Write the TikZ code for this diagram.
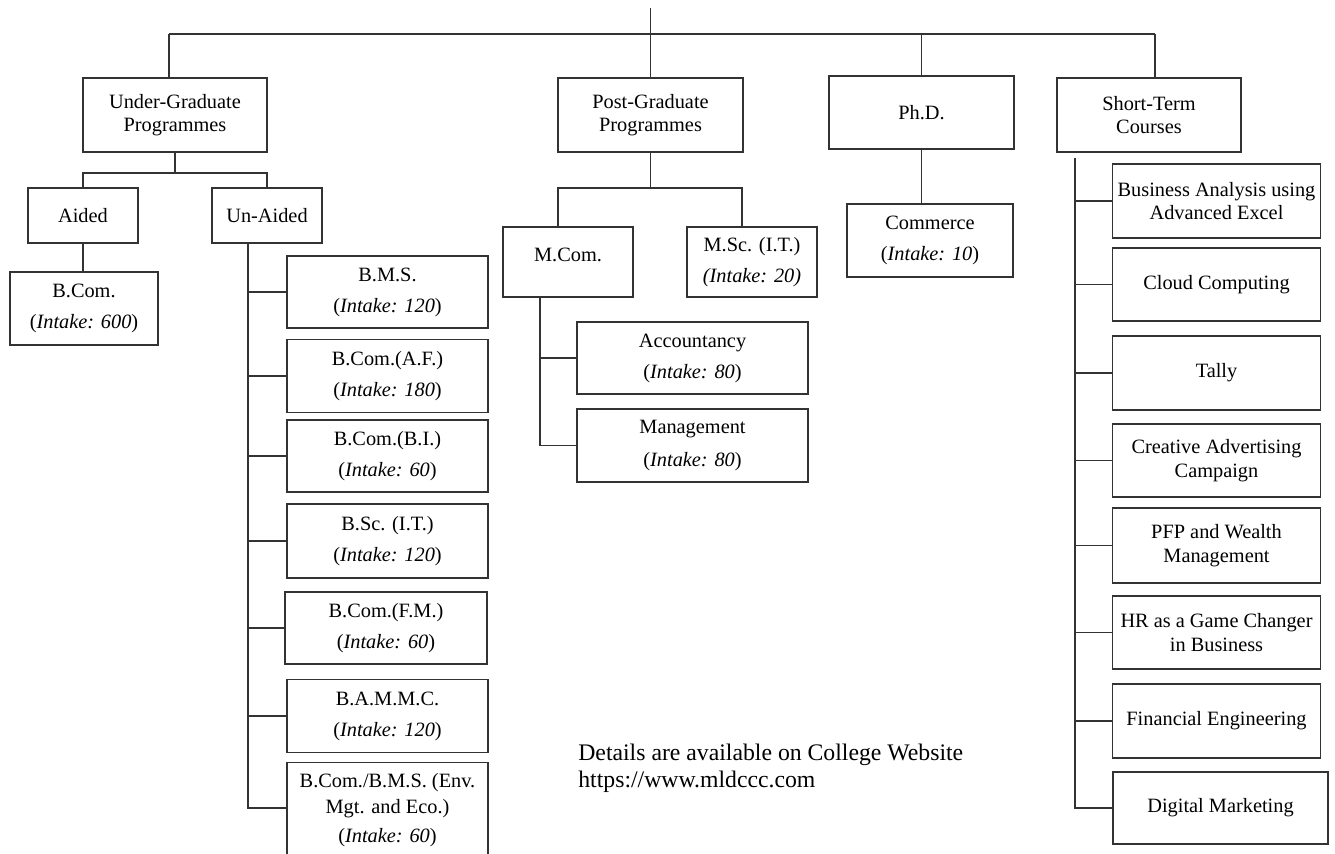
\documentclass[tikz,border=0pt]{standalone}
\usepackage{fontspec}
\setmainfont{Liberation Serif}
\usetikzlibrary{calc}
\newcommand{\intake}[1]{(\textit{Intake: #1})}

\begin{document}
\begin{tikzpicture}[x=0.59pt, y=-0.59pt,
    box/.style 2 args={draw=black!80, line width=0.8pt, rectangle, align=center, inner sep=1pt,
        minimum width=#1*0.59pt, minimum height=#2*0.59pt, font=\fontsize{12}{13.8}\selectfont},
    link/.style={draw=black!80, line width=0.8pt}]
			%%%%% START %%%%%
			\useasboundingbox (0,0) rectangle (1335,853);
			\clip (0,0) rectangle (1335,853);
			
			% top level
			\node[box={184}{74}] (ug) at (175,115) {Under-Graduate\\Programmes};
			\node[box={185}{74}] (pg) at (650.5,115) {Post-Graduate\\Programmes};
			\node[box={185}{73}] (phd) at (921.5,112.5) {Ph.D.};
			\node[box={184}{74}] (st) at (1149,115) {Short-Term\\Courses};
			
			\coordinate (root) at (650.5,8);
			\coordinate (barL) at (169,34);
			\coordinate (barR) at (1155,34);
			\draw[link] (root) -- (pg.north);
			\draw[link] (barL) -- (barR);
			\draw[link] (barL) -- (barL |- ug.north);
			\draw[link] (phd.north |- barL) -- (phd.north);
			\draw[link] (barR) -- (barR |- st.north);
			
			% under-graduate
			\node[box={110}{55}] (aided) at (83,215.5) {Aided};
			\node[box={110}{55}] (unaided) at (267,215.5) {Un-Aided};
			\coordinate (ugbus) at (177,173);
			\draw[link] (ug.south) -- (ug.south |- ugbus);
			\draw[link] (aided.north) |- (ugbus) -| (unaided.north);
			
			\node[box={148}{73}] (bcom) at (84,308.5) {B.Com.\\[4.5pt]\intake{600}};
			\draw[link] (aided.south) -- (aided.south |- bcom.north);
			
			\node[box={201}{72}] (bms) at (387.5,292) {B.M.S.\\[4.5pt]\intake{120}};
			\node[box={201}{73}] (bcomaf) at (387.5,376) {B.Com.(A.F.)\\[4.5pt]\intake{180}};
			\node[box={201}{72}] (bcombi) at (387.5,456) {B.Com.(B.I.)\\[4.5pt]\intake{60}};
			\node[box={201}{74}] (bscit) at (387.5,541) {B.Sc. (I.T.)\\[4.5pt]\intake{120}};
			\node[box={202}{72}] (bcomfm) at (386,628) {B.Com.(F.M.)\\[4.5pt]\intake{60}};
			\node[box={201}{73}] (bammc) at (387.5,716) {B.A.M.M.C.\\[4.5pt]\intake{120}};
			\node[box={201}{0}, anchor=north, inner ysep=6.5pt] (bcombms) at (387.5,762)
			    {B.Com./B.M.S. (Env.\\[1.5pt]Mgt. and Eco.)\\[3.3pt]\intake{60}\\[20pt]\mbox{}};
			
			\coordinate (ua) at (248,808);
			\draw[link] (unaided.south -| ua) -- (ua) -- (ua -| bcombms.west);
			\draw[link] (ua |- bms.west) -- (bms.west);
			\draw[link] (ua |- bcomaf.west) -- (bcomaf.west);
			\draw[link] (ua |- bcombi.west) -- (bcombi.west);
			\draw[link] (ua |- bscit.west) -- (bscit.west);
			\draw[link] (ua |- bcomfm.west) -- (bcomfm.west);
			\draw[link] (ua |- bammc.west) -- (bammc.west);
			
			% post-graduate
			\node[box={130}{70}] (mcom) at (568,262) {\raisebox{8pt}{M.Com.}};
			\node[box={130}{70}] (msc) at (752,262) {M.Sc. (I.T.)\\[4.5pt]\textit{(Intake: 20)}};
			\coordinate (pgL) at (558,188);
			\coordinate (pgR) at (742,188);
			\draw[link] (pg.south) -- (pg.south |- pgL);
			\draw[link] (pgL |- mcom.north) -- (pgL) -- (pgR) -- (pgR |- msc.north);
			
			\node[box={231}{72}] (acc) at (692.5,358) {Accountancy\\[4.5pt]\intake{80}};
			\node[box={231}{73}] (mgmt) at (692.5,445.5) {Management\\[6pt]\intake{80}};
			\coordinate (mc) at (540,300);
			\draw[link] (mcom.south -| mc) -- (mc |- mgmt.west) -- (mgmt.west);
			\draw[link] (mc |- acc.west) -- (acc.west);
			
			% ph.d.
			\node[box={166}{73}] (commerce) at (930,240.5) {Commerce\\[4.5pt]\intake{10}};
			\draw[link] (phd.south) -- (phd.south |- commerce.north);
			
			% short-term
			\node[box={208}{74}] (ba) at (1216.5,201) {Business Analysis using\\Advanced Excel};
			\node[box={208}{73}] (cc) at (1216.5,284.5) {Cloud Computing};
			\node[box={208}{74}] (tally) at (1216.5,373) {Tally};
			\node[box={208}{73}] (ca) at (1216.5,460.5) {Creative Advertising\\Campaign};
			\node[box={208}{75}] (pfp) at (1216.5,545.5) {PFP and Wealth\\Management};
			\node[box={208}{73}] (hr) at (1216.5,632.5) {HR as a Game Changer\\in Business};
			\node[box={208}{74}] (fe) at (1216.5,721) {Financial Engineering};
			\node[box={215}{72}] (dm) at (1220.5,808) {Digital Marketing};
			
			\coordinate (sc) at (1075,158);
			\draw[link] (sc) -- (sc |- dm.west) -- (dm.west);
			\draw[link] (sc |- ba.west) -- (ba.west);
			\draw[link] (sc |- cc.west) -- (cc.west);
			\draw[link] (sc |- tally.west) -- (tally.west);
			\draw[link] (sc |- ca.west) -- (ca.west);
			\draw[link] (sc |- pfp.west) -- (pfp.west);
			\draw[link] (sc |- hr.west) -- (hr.west);
			\draw[link] (sc |- fe.west) -- (fe.west);
			
			\node[anchor=north west, inner sep=0pt, align=left, font=\fontsize{14}{16}\selectfont] (note)
			    at (578,744) {Details are available on College Website\\https://www.mldccc.com};
			%%%%% END %%%%%
\end{tikzpicture}
\end{document}
